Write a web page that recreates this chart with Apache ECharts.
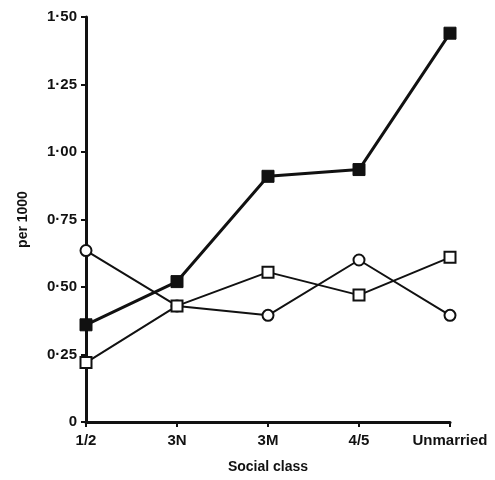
<!DOCTYPE html>
<html>
<head>
<meta charset="utf-8">
<script src="https://cdn.jsdelivr.net/npm/echarts@6/dist/echarts.min.js"></script>
<style>
  html, body { margin: 0; padding: 0; background: #fff; }
  #chart { width: 495px; height: 480px; }
</style>
</head>
<body>
<div id="chart"></div>
<script>
// 社会阶层
const classes = ['1/2', '3N', '3M', '4/5', 'Unmarried']
// three series (per 1000)
const filledSquares = [0.36, 0.52, 0.91, 0.935, 1.44]
const openSquares = [0.22, 0.43, 0.555, 0.47, 0.61]
const openCircles = [0.635, 0.43, 0.395, 0.60, 0.395]
const yTicks = [0, 0.25, 0.5, 0.75, 1, 1.25, 1.5]

const ink = '#111'
const font = 'Liberation Sans, Arial, sans-serif'

function fmtTick(v) {
  if (v === 0) return '0'
  return v.toFixed(2).replace('.', '·')
}

const chart = echarts.init(document.getElementById('chart'))

const option = {
  animation: false,
  grid: { left: 86, right: 45, top: 17, bottom: 58, outerBoundsMode: 'none' },
  xAxis: {
    type: 'category',
    data: classes,
    boundaryGap: false,
    name: 'Social class',
    nameLocation: 'middle',
    nameGap: 38,
    nameTextStyle: { color: ink, fontSize: 14, fontFamily: font, fontWeight: 'bold' },
    axisLine: { lineStyle: { color: ink, width: 3 } },
    axisTick: { show: true, length: 5, interval: 0, lineStyle: { color: ink, width: 2 } },
    axisLabel: { color: ink, fontSize: 15, fontWeight: 'bold', fontFamily: font, margin: 11, interval: 0 },
    splitLine: { show: false },
  },
  yAxis: {
    type: 'value',
    min: 0,
    max: 1.5,
    interval: 0.25,
    name: 'per 1000',
    nameLocation: 'middle',
    nameGap: 56,
    nameRotate: 90,
    nameTextStyle: { color: ink, fontSize: 14, fontFamily: font, fontWeight: 'bold' },
    axisLine: { show: true, lineStyle: { color: ink, width: 3 } },
    axisTick: { show: true, length: 5, lineStyle: { color: ink, width: 2 } },
    axisLabel: {
      color: ink, fontSize: 15, fontWeight: 'bold', fontFamily: font, margin: 9,
      formatter: v => (yTicks.includes(v) ? fmtTick(v) : ''),
    },
    splitLine: { show: false },
  },
  series: [
    {
      name: 'circles',
      type: 'line',
      data: openCircles,
      symbol: 'circle',
      symbolSize: 11,
      showAllSymbol: true,
      lineStyle: { color: ink, width: 2 },
      itemStyle: { color: '#fff', borderColor: ink, borderWidth: 2 },
      z: 2,
    },
    {
      name: 'open squares',
      type: 'line',
      data: openSquares,
      symbol: 'rect',
      symbolSize: 11,
      showAllSymbol: true,
      lineStyle: { color: ink, width: 2 },
      itemStyle: { color: '#fff', borderColor: ink, borderWidth: 2 },
      z: 3,
    },
    {
      name: 'filled squares',
      type: 'line',
      data: filledSquares,
      symbol: 'rect',
      symbolSize: 12,
      showAllSymbol: true,
      lineStyle: { color: ink, width: 3 },
      itemStyle: { color: ink, borderColor: ink, borderWidth: 1 },
      z: 4,
    },
  ],
}

chart.setOption(option)
</script>
</body>
</html>
